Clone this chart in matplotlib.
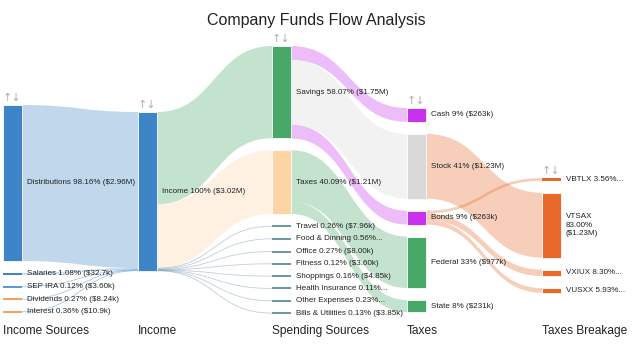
import matplotlib.pyplot as plt
from matplotlib.path import Path
from matplotlib.patches import PathPatch, Rectangle

plt.rcParams['font.family'] = ['Liberation Sans', 'DejaVu Sans']

# データ ($k) -------------------------
src_names = ['Distributions', 'Salaries', 'SEP IRA', 'Dividends', 'Interest']
src_values = [2960, 32.7, 3.60, 8.24, 10.9]
src_pct = ['98.16', '1.08', '0.12', '0.27', '0.36']

income_name = 'Income'
income_pct = '100'

spend_names = ['Savings', 'Taxes', 'Travel', 'Food & Dinning', 'Office', 'Fitness',
               'Shoppings', 'Health Insurance', 'Other Expenses', 'Bills & Utilities']
spend_values = [1750, 1210, 7.96, 16.9, 8.00, 3.60, 4.85, 3.30, 6.90, 3.85]
spend_pct = ['58.07', '40.09', '0.26', '0.56', '0.27', '0.12', '0.16', '0.11', '0.23', '0.13']

tax_names = ['Cash', 'Stock', 'Bonds', 'Federal', 'State']
tax_values = [263, 1230, 263, 977, 231]
tax_pct = ['9', '41', '9', '33', '8']
tax_parent = ['Savings', 'Savings', 'Savings', 'Taxes', 'Taxes']

fund_names = ['VBTLX', 'VTSAX', 'VXIUX', 'VUSXX']
fund_values = [52.8, 1230, 123, 87.9]
fund_pct = ['3.56', '83.00', '8.30', '5.93']
fund_parent = ['Bonds', 'Stock', 'Bonds', 'Bonds']

column_titles = ['Income Sources', 'Income', 'Spending Sources', 'Taxes', 'Taxes Breakage']

# 色 -------------------------
BLUE = '#3d85c6'
GREEN = '#48a868'
PURPLE = '#c832ee'
ORANGE = '#e8692a'
node_color = {
    'Distributions': BLUE, 'Salaries': BLUE, 'SEP IRA': '#5b9bd5',
    'Dividends': '#f4a259', 'Interest': '#f4a259', 'Income': BLUE,
    'Savings': GREEN, 'Taxes': '#fdd5a5',
    'Cash': PURPLE, 'Stock': '#d9d9d9', 'Bonds': PURPLE,
    'Federal': GREEN, 'State': GREEN,
}
for n in spend_names[2:]:
    node_color[n] = '#6f97a6'
for n in fund_names:
    node_color[n] = ORANGE

short_labels = ['Food & Dinning', 'Health Insurance', 'Other Expenses', 'VBTLX', 'VXIUX', 'VUSXX']

# レイアウト -------------------------
SCALE = 0.0527   # px / $k
GAP = 12
NODE_W = 19
col_x = [3, 138, 272, 407, 542]
col_top = [105, 112, 46, 108, 178]

income_value = sum(src_values)
columns = [
    list(zip(src_names, src_values, src_pct)),
    [(income_name, income_value, income_pct)],
    list(zip(spend_names, spend_values, spend_pct)),
    list(zip(tax_names, tax_values, tax_pct)),
    list(zip(fund_names, fund_values, fund_pct)),
]

links = [(n, income_name, v) for n, v in zip(src_names, src_values)]
links += [(income_name, n, v) for n, v in zip(spend_names, spend_values)]
links += [(p, n, v) for n, v, p in zip(tax_names, tax_values, tax_parent)]
links += [(p, n, v) for n, v, p in zip(fund_names, fund_values, fund_parent)]

nodes = {}
for c, col in enumerate(columns):
    y = col_top[c]
    for name, val, pct in col:
        h = max(val * SCALE, 0.3)
        nodes[name] = dict(x=col_x[c], y=y, h=h, val=val, pct=pct, order=len(nodes))
        y += h + GAP


def fmt_amount(v):
    if v >= 1000:
        return '$%.2fM' % (v / 1000)
    if v >= 100:
        return '$%.0fk' % v
    if v >= 10:
        return '$%.1fk' % v
    return '$%.2fk' % v


fig = plt.figure(figsize=(6.32, 3.51), dpi=100)
ax = fig.add_axes([0, 0, 1, 1])
ax.set_xlim(0, 632)
ax.set_ylim(351, 0)
ax.axis('off')

# リンク -------------------------
# 出側の順番 = ターゲットの順, 入側の順番 = ソースの順
src_pos = {}
for s in nodes:
    outs = sorted([l for l in links if l[0] == s], key=lambda l: nodes[l[1]]['order'])
    off = 0
    for l in outs:
        src_pos[l] = off
        off += l[2] * SCALE
tgt_pos = {}
for t in nodes:
    ins = sorted([l for l in links if l[1] == t], key=lambda l: nodes[l[0]]['order'])
    off = 0
    for l in ins:
        tgt_pos[l] = off
        off += l[2] * SCALE

for l in links:
    s, t, v = l
    ns, nt = nodes[s], nodes[t]
    w = v * SCALE
    x0 = ns['x'] + NODE_W
    x1 = nt['x']
    xm = (x0 + x1) / 2
    y0 = ns['y'] + src_pos[l]
    y1 = nt['y'] + tgt_pos[l]
    col = node_color[t]
    if w < 1.0:
        p = Path([(x0, y0 + w / 2), (xm, y0 + w / 2), (xm, y1 + w / 2), (x1, y1 + w / 2)],
                 [Path.MOVETO, Path.CURVE4, Path.CURVE4, Path.CURVE4])
        ax.add_patch(PathPatch(p, fc='none', ec=col, lw=0.6, alpha=0.45, zorder=1))
    else:
        verts = [(x0, y0), (xm, y0), (xm, y1), (x1, y1), (x1, y1 + w),
                 (xm, y1 + w), (xm, y0 + w), (x0, y0 + w), (x0, y0)]
        codes = [Path.MOVETO, Path.CURVE4, Path.CURVE4, Path.CURVE4, Path.LINETO,
                 Path.CURVE4, Path.CURVE4, Path.CURVE4, Path.CLOSEPOLY]
        ax.add_patch(PathPatch(Path(verts, codes), fc=col, ec='none', alpha=0.32, zorder=1))

# ノード -------------------------
for name, n in nodes.items():
    h = n['h']
    cy = n['y'] + h / 2
    hd = max(h, 2)
    if hd > 4:
        ax.add_patch(Rectangle((n['x'] + 1.2, cy - hd / 2 + 1.2), NODE_W, hd,
                               fc='#000000', alpha=0.15, ec='none', zorder=2))
        ax.add_patch(Rectangle((n['x'], cy - hd / 2), NODE_W, hd,
                               fc=node_color[name], ec='white', lw=0.6, zorder=3))
    else:
        ax.add_patch(Rectangle((n['x'], cy - hd / 2), NODE_W, hd,
                               fc=node_color[name], ec='none', zorder=3))
    if name == 'VTSAX':
        label = '%s\n%s%%\n(%s)' % (name, n['pct'], fmt_amount(n['val']))
    elif name in short_labels:
        label = '%s %s%%...' % (name, n['pct'])
    else:
        label = '%s %s%% (%s)' % (name, n['pct'], fmt_amount(n['val']))
    ax.text(n['x'] + NODE_W + 5, cy, label, fontsize=5.8, color='#222222',
            va='center', ha='left', linespacing=1.25, zorder=4)

# 並べ替えアイコン・列タイトル -------------------------
for c in range(5):
    ax.text(col_x[c], col_top[c] - 7, '↑↓', fontsize=8, color='#b0b0b0',
            va='center', ha='left', family=['DejaVu Sans'])
    ax.text(col_x[c], 331, column_titles[c], fontsize=8.6, color='#222222',
            va='center', ha='left')

ax.text(316, 20, 'Company Funds Flow Analysis', fontsize=11.5, color='#222222',
        va='center', ha='center')

fig.savefig('out.png', dpi=100)
